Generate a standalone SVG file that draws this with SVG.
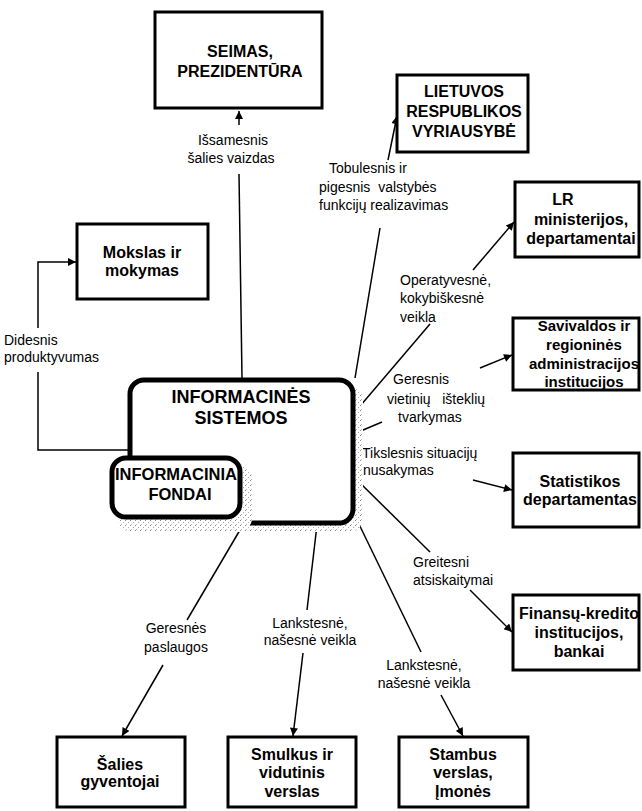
<svg xmlns="http://www.w3.org/2000/svg" width="642" height="811" viewBox="0 0 642 811">
<defs>
<style>
.box{fill:#fff;stroke:#000;stroke-width:3}
.bt{font-family:"Liberation Sans",Arial,sans-serif;font-weight:bold;font-size:16px;fill:#000;text-anchor:middle}
.lb{font-family:"Liberation Sans",Arial,sans-serif;font-size:14px;fill:#000}
.mid{text-anchor:middle}
.cn{fill:none;stroke:#000;stroke-width:1.5}
.big{fill:#fff;stroke:#000;stroke-width:5}
</style>
<marker id="ah" viewBox="0 0 10 10" refX="10" refY="5" markerWidth="10" markerHeight="8" markerUnits="userSpaceOnUse" orient="auto">
<path d="M0,0 L10,5 L0,10 z" fill="#000"/>
</marker>
<pattern id="dots" width="5" height="5" patternUnits="userSpaceOnUse">
<rect x="0" y="0" width="1" height="1" fill="#888"/>
<rect x="3" y="2" width="1" height="1" fill="#aaa"/>
<rect x="1" y="4" width="1" height="1" fill="#bbb"/>
</pattern>
</defs>
<rect width="642" height="811" fill="#fff"/>

<g id="connectors">
<line class="cn" x1="239" y1="125" x2="239" y2="111" marker-end="url(#ah)"/>
<line class="cn" x1="239" y1="174" x2="242" y2="378"/>
<line class="cn" x1="388" y1="160" x2="397" y2="116" marker-end="url(#ah)"/>
<line class="cn" x1="380" y1="228" x2="355" y2="378"/>
<line class="cn" x1="473" y1="270" x2="514" y2="222" marker-end="url(#ah)"/>
<line class="cn" x1="430" y1="324" x2="355" y2="412"/>
<line class="cn" x1="480" y1="368" x2="512" y2="355" marker-end="url(#ah)"/>
<line class="cn" x1="382" y1="422" x2="356" y2="433"/>
<line class="cn" x1="473" y1="480" x2="512" y2="490" marker-end="url(#ah)"/>
<line class="cn" x1="355" y1="452" x2="361" y2="452"/>
<line class="cn" x1="470" y1="590" x2="512" y2="632" marker-end="url(#ah)"/>
<line class="cn" x1="356" y1="479" x2="430" y2="552"/>
<line class="cn" x1="441" y1="695" x2="463" y2="736" marker-end="url(#ah)"/>
<line class="cn" x1="356" y1="518" x2="421" y2="652"/>
<line class="cn" x1="303" y1="653" x2="293" y2="736" marker-end="url(#ah)"/>
<line class="cn" x1="317" y1="525" x2="307" y2="610"/>
<line class="cn" x1="163" y1="665" x2="122" y2="736" marker-end="url(#ah)"/>
<line class="cn" x1="240" y1="530" x2="187" y2="620"/>
<polyline class="cn" points="38,328 38,262 76,262" marker-end="url(#ah)"/>
<polyline class="cn" points="38,372 38,450 130,450"/>
</g>

<g id="labels">
<text class="lb mid" x="233" y="145">Išsamesnis</text>
<text class="lb mid" x="231" y="163">šalies vaizdas</text>
<text class="lb" x="329" y="173">Tobulesnis ir</text>
<text class="lb" x="319" y="192" xml:space="preserve">pigesnis  valstybės</text>
<text class="lb" x="319" y="210">funkcijų realizavimas</text>
<text class="lb" x="400" y="285">Operatyvesnė,</text>
<text class="lb" x="400" y="303">kokybiškesnė</text>
<text class="lb" x="400" y="322">veikla</text>
<text class="lb" x="393" y="384">Geresnis</text>
<text class="lb" x="387" y="404" xml:space="preserve">vietinių   išteklių</text>
<text class="lb" x="398" y="422">tvarkymas</text>
<text class="lb" x="362" y="458">Tikslesnis situacijų</text>
<text class="lb" x="363" y="475">nusakymas</text>
<text class="lb" x="413" y="567">Greitesni</text>
<text class="lb" x="413" y="585">atsiskaitymai</text>
<text class="lb mid" x="424" y="670">Lankstesnė,</text>
<text class="lb mid" x="424" y="688">našesnė veikla</text>
<text class="lb mid" x="310" y="628">Lankstesnė,</text>
<text class="lb mid" x="310" y="645">našesnė veikla</text>
<text class="lb mid" x="176" y="633">Geresnės</text>
<text class="lb mid" x="176" y="652">paslaugos</text>
<text class="lb" x="4" y="345">Didesnis</text>
<text class="lb" x="4" y="362">produktyvumas</text>
</g>

<g id="n-seimas">
<rect class="box" x="155" y="12" width="167" height="96"/>
<text class="bt" x="240" y="57">SEIMAS,</text>
<text class="bt" x="240" y="77">PREZIDENTŪRA</text>
</g>
<g id="n-lietuvos">
<rect class="box" x="397" y="75" width="131" height="77"/>
<text class="bt" x="464" y="97">LIETUVOS</text>
<text class="bt" x="464" y="117">RESPUBLIKOS</text>
<text class="bt" x="464" y="137">VYRIAUSYBĖ</text>
</g>
<g id="n-lr">
<rect class="box" x="515" y="182" width="124" height="75"/>
<text class="bt" x="563" y="205">LR</text>
<text class="bt" x="581" y="225">ministerijos,</text>
<text class="bt" x="581" y="244">departamentai</text>
</g>
<g id="n-savivaldos">
<rect class="box" x="513" y="318" width="126" height="72"/>
<text class="bt" x="584" y="331" style="font-size:15px">Savivaldos ir</text>
<text class="bt" x="584" y="350" style="font-size:15px">regioninės</text>
<text class="bt" x="584" y="369" style="font-size:15px">administracijos</text>
<text class="bt" x="584" y="387" style="font-size:15px">institucijos</text>
</g>
<g id="n-statistikos">
<rect class="box" x="513" y="453" width="126" height="74"/>
<text class="bt" x="580" y="487">Statistikos</text>
<text class="bt" x="580" y="505">departamentas</text>
</g>
<g id="n-finansu">
<rect class="box" x="513" y="595" width="126" height="75"/>
<text class="bt" x="579" y="619">Finansų-kredito</text>
<text class="bt" x="579" y="638">institucijos,</text>
<text class="bt" x="579" y="657">bankai</text>
</g>
<g id="n-mokslas">
<rect class="box" x="77" y="224" width="131" height="75"/>
<text class="bt" x="142" y="258">Mokslas ir</text>
<text class="bt" x="142" y="276">mokymas</text>
</g>
<g id="n-salies">
<rect class="box" x="57" y="737" width="128" height="70"/>
<text class="bt" x="120" y="770">Šalies</text>
<text class="bt" x="120" y="787">gyventojai</text>
</g>
<g id="n-smulkus">
<rect class="box" x="228" y="737" width="128" height="70"/>
<text class="bt" x="292" y="760">Smulkus ir</text>
<text class="bt" x="292" y="778">vidutinis</text>
<text class="bt" x="292" y="797">verslas</text>
</g>
<g id="n-stambus">
<rect class="box" x="399" y="737" width="129" height="70"/>
<text class="bt" x="463" y="760">Stambus</text>
<text class="bt" x="463" y="778">verslas,</text>
<text class="bt" x="463" y="797">Įmonės</text>
</g>

<g id="n-sistemos">
<rect x="137" y="386" width="226" height="146" rx="14" fill="#fff"/>
<rect x="137" y="386" width="226" height="146" rx="14" fill="url(#dots)"/>
<rect class="big" x="130" y="380" width="223" height="143" rx="14"/>
<text class="bt" x="241" y="403" style="font-size:18px">INFORMACINĖS</text>
<text class="bt" x="241" y="424" style="font-size:18px">SISTEMOS</text>
</g>
<g id="n-fondai">
<rect x="118" y="464" width="134" height="68" rx="14" fill="#fff"/>
<rect x="118" y="464" width="134" height="68" rx="14" fill="url(#dots)"/>
<rect class="big" x="112" y="458" width="128" height="59" rx="14"/>
<text class="bt" x="115" y="480" style="text-anchor:start;font-size:16.5px">INFORMACINIAI</text>
<text class="bt" x="180" y="500" style="font-size:16.5px">FONDAI</text>
</g>
</svg>
